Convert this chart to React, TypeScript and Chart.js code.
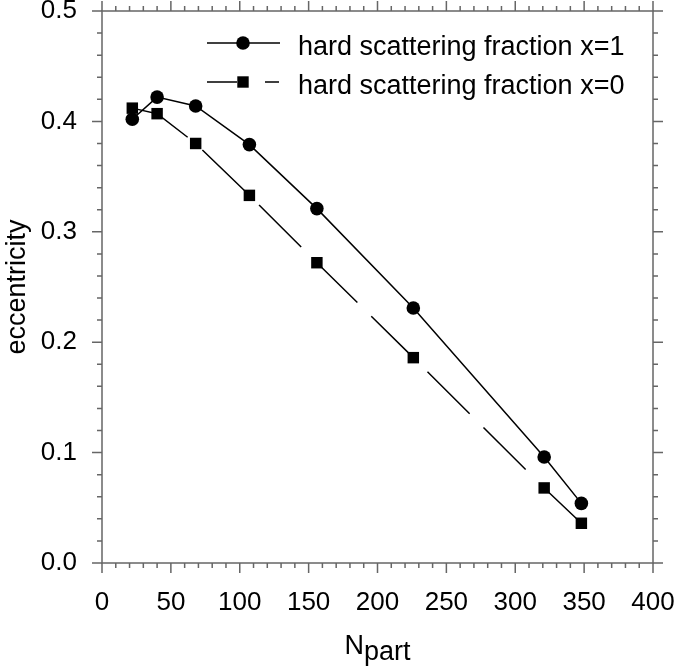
import React, { useEffect, useRef } from "react";
import { Chart, registerables } from "chart.js";

Chart.register(...registerables);

// ---- data ----
const npart = [22, 40, 68, 107, 156, 226, 321, 348];
const eccX1 = [0.402, 0.422, 0.414, 0.379, 0.321, 0.231, 0.096, 0.054];
const eccX0 = [0.412, 0.407, 0.38, 0.333, 0.272, 0.186, 0.068, 0.036];
const seriesLabels = ["hard scattering fraction x=1", "hard scattering fraction x=0"];
const xMajorTicks = [0, 50, 100, 150, 200, 250, 300, 350, 400];
const yMajorTicks = [0, 0.1, 0.2, 0.3, 0.4, 0.5];
const xMinorStep = 10;
const yMinorStep = 0.02;

const FONT = "'Liberation Sans', Arial, Helvetica, sans-serif";

const decorPlugin = {
  id: "decor",
  afterDraw(chart: any) {
    const { ctx, chartArea: a, scales } = chart;
    const x = scales.x;
    const y = scales.y;
    ctx.save();
    // frame
    ctx.strokeStyle = "#666";
    ctx.lineWidth = 1.5;
    ctx.strokeRect(a.left, a.top, a.right - a.left, a.bottom - a.top);
    // ticks (outward) on all four sides
    ctx.beginPath();
    const xMin = xMajorTicks[0];
    const xMax = xMajorTicks[xMajorTicks.length - 1];
    for (let v = xMin; v <= xMax + 1e-9; v += xMinorStep) {
      const px = x.getPixelForValue(v);
      const major = xMajorTicks.some((t) => Math.abs(t - v) < 1e-6);
      const len = major ? 10 : 5;
      ctx.moveTo(px, a.bottom);
      ctx.lineTo(px, a.bottom + len);
      ctx.moveTo(px, a.top);
      ctx.lineTo(px, a.top - len);
    }
    const yMin = yMajorTicks[0];
    const yMax = yMajorTicks[yMajorTicks.length - 1];
    const n = Math.round((yMax - yMin) / yMinorStep);
    for (let i = 0; i <= n; i++) {
      const v = yMin + i * yMinorStep;
      const py = y.getPixelForValue(v);
      const major = yMajorTicks.some((t) => Math.abs(t - v) < 1e-6);
      const len = major ? 10 : 5;
      ctx.moveTo(a.left, py);
      ctx.lineTo(a.left - len, py);
      ctx.moveTo(a.right, py);
      ctx.lineTo(a.right + len, py);
    }
    ctx.stroke();

    // legend
    ctx.fillStyle = "#000";
    ctx.strokeStyle = "#000";
    ctx.lineWidth = 1.5;
    const lx0 = 207, lx1 = 280, mx = 243;
    const r1 = 43, r2 = 82;
    ctx.beginPath();
    ctx.moveTo(lx0, r1);
    ctx.lineTo(lx1, r1);
    ctx.stroke();
    ctx.beginPath();
    ctx.arc(mx, r1, 6.8, 0, Math.PI * 2);
    ctx.fill();
    ctx.beginPath();
    ctx.moveTo(lx0, r2);
    ctx.lineTo(237, r2);
    ctx.moveTo(265, r2);
    ctx.lineTo(279, r2);
    ctx.stroke();
    ctx.fillRect(mx - 5.7, r2 - 5.7, 11.4, 11.4);
    ctx.font = `27px ${FONT}`;
    ctx.textAlign = "left";
    ctx.textBaseline = "alphabetic";
    ctx.fillText(seriesLabels[0], 298, 55);
    ctx.fillText(seriesLabels[1], 298, 94);

    // x title N_part
    const cx = (a.left + a.right) / 2;
    const wN = ctx.measureText("N").width;
    const wP = ctx.measureText("part").width;
    const sx = cx - (wN + wP) / 2;
    ctx.fillText("N", sx, 654);
    ctx.fillText("part", sx + wN, 660);

    // y title
    ctx.save();
    ctx.translate(25, (a.top + a.bottom) / 2);
    ctx.rotate(-Math.PI / 2);
    ctx.textAlign = "center";
    ctx.fillText("eccentricity", 0, 0);
    ctx.restore();

    ctx.restore();
  },
};

function zeroPad(s: any) {
  s.paddingLeft = 0;
  s.paddingRight = 0;
  s.paddingTop = 0;
  s.paddingBottom = 0;
}

export default function App() {
  const ref = useRef<HTMLCanvasElement | null>(null);
  useEffect(() => {
    if (!ref.current) return;
    const chart = new Chart(ref.current, {
      type: "line",
      data: {
        datasets: [
          {
            label: seriesLabels[0],
            data: npart.map((v, i) => ({ x: v, y: eccX1[i] })),
            borderColor: "#000",
            backgroundColor: "#000",
            borderWidth: 1.5,
            pointStyle: "circle",
            pointRadius: 6.8,
            pointBorderWidth: 0,
            tension: 0,
          },
          {
            label: seriesLabels[1],
            data: npart.map((v, i) => ({ x: v, y: eccX0[i] })),
            borderColor: "#000",
            backgroundColor: "#000",
            borderWidth: 1.5,
            borderDash: [59.5, 19.5],
            borderDashOffset: 74.5,
            pointStyle: "rect",
            pointRadius: 8.1,
            pointBorderWidth: 0,
            tension: 0,
          },
        ],
      },
      options: {
        responsive: false,
        animation: false,
        devicePixelRatio: 1,
        layout: { padding: { left: 0, right: 24, top: 11, bottom: 0 } },
        plugins: { legend: { display: false }, tooltip: { enabled: false } },
        scales: {
          x: {
            type: "linear",
            min: 0,
            max: 400,
            grid: { display: false, drawTicks: false },
            border: { display: false },
            afterFit: (s: any) => {
              s.height = 107;
              zeroPad(s);
            },
            afterBuildTicks: (s: any) => {
              s.ticks = xMajorTicks.map((v) => ({ value: v }));
            },
            ticks: {
              padding: 24,
              color: "#000",
              font: { family: FONT, size: 26 },
              maxRotation: 0,
              autoSkip: false,
              callback: (v: any) => String(v),
            },
          },
          y: {
            type: "linear",
            min: 0,
            max: 0.5,
            grid: { display: false, drawTicks: false },
            border: { display: false },
            afterFit: (s: any) => {
              s.width = 102;
              zeroPad(s);
            },
            afterBuildTicks: (s: any) => {
              s.ticks = yMajorTicks.map((v) => ({ value: v }));
            },
            ticks: {
              padding: 25,
              color: "#000",
              font: { family: FONT, size: 26 },
              autoSkip: false,
              callback: (v: any) => Number(v).toFixed(1),
            },
          },
        },
      },
      plugins: [decorPlugin],
    });
    return () => chart.destroy();
  }, []);
  return (
    <div style={{ position: "absolute", left: 0, top: 0, width: 677, height: 670, background: "#fff" }}>
      <canvas ref={ref} width={677} height={670} style={{ display: "block" }} />
    </div>
  );
}
